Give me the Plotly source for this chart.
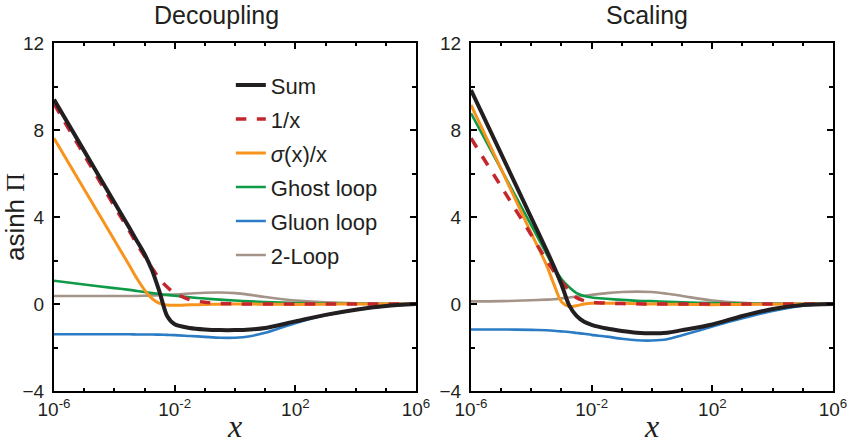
import plotly.graph_objects as go
from plotly.subplots import make_subplots

# ── Data ───────────────────────────────────────────────────────────────────────

X = [1e-6, 1e-5, 1e-4, 3.16e-4, 5.62e-4, 1e-3, 1.78e-3, 3.16e-3, 5.62e-3, 1e-2,
     3.16e-2, 0.1, 0.316, 1, 3.16, 10, 100, 1e3, 1e4, 1e5, 1e6]

# Decoupling panel
DEC_SUM   = [9.40, 7.04, 4.68, 3.50, 2.90, 2.30, 1.55, 0.55, -0.55, -0.93,
             -1.10, -1.17, -1.20, -1.20, -1.17, -1.10, -0.80, -0.50, -0.26, -0.09, 0.0]
DEC_INV   = [9.20, 6.85, 4.50, 3.35, 2.75, 2.20, 1.65, 1.15, 0.78, 0.50,
             0.20, 0.08, 0.03, 0.01, 0.0, 0.0, 0.0, 0.0, 0.0, 0.0, 0.0]
DEC_SIGMA = [7.62, 5.28, 2.94, 1.77, 1.17, 0.65, 0.25, 0.03, -0.05, -0.06,
             -0.04, -0.02, -0.01, 0.0, 0.0, -0.01, -0.02, -0.01, 0.0, 0.0, 0.0]
DEC_GHOST = [1.07, 0.90, 0.73, 0.65, 0.60, 0.55, 0.50, 0.46, 0.42, 0.38,
             0.31, 0.25, 0.20, 0.16, 0.12, 0.09, 0.04, 0.02, 0.01, 0.0, 0.0]
DEC_GLUON = [-1.39, -1.39, -1.39, -1.39, -1.40, -1.40, -1.40, -1.41, -1.42, -1.43,
             -1.47, -1.51, -1.55, -1.55, -1.48, -1.32, -0.88, -0.52, -0.27, -0.10, 0.0]
DEC_2LOOP = [0.37, 0.37, 0.37, 0.37, 0.37, 0.38, 0.39, 0.40, 0.42, 0.44,
             0.48, 0.52, 0.53, 0.50, 0.42, 0.32, 0.16, 0.08, 0.03, 0.01, 0.0]

# Scaling panel
SCA_SUM   = [9.84, 6.90, 3.96, 2.49, 1.72, 0.90, -0.05, -0.55, -0.82, -0.96,
             -1.13, -1.24, -1.32, -1.35, -1.32, -1.20, -0.94, -0.55, -0.23, -0.05, 0.0]
SCA_INV   = [7.62, 5.40, 3.17, 2.02, 1.50, 1.03, 0.64, 0.29, 0.15, 0.08,
             0.04, 0.02, 0.01, 0.0, 0.0, 0.0, 0.0, 0.0, 0.0, 0.0, 0.0]
SCA_SIGMA = [9.15, 6.20, 3.25, 1.80, 0.90, 0.10, -0.12, -0.08, 0.0, 0.04,
             0.04, 0.03, 0.01, 0.0, -0.01, -0.02, -0.03, -0.02, -0.01, 0.0, 0.0]
SCA_GHOST = [8.77, 6.19, 3.61, 2.32, 1.68, 1.15, 0.78, 0.50, 0.37, 0.30,
             0.24, 0.19, 0.15, 0.13, 0.10, 0.08, 0.04, 0.02, 0.01, 0.0, 0.0]
SCA_GLUON = [-1.17, -1.17, -1.19, -1.21, -1.23, -1.26, -1.29, -1.33, -1.37, -1.42,
             -1.50, -1.60, -1.67, -1.68, -1.62, -1.44, -1.04, -0.66, -0.32, -0.08, 0.0]
SCA_2LOOP = [0.12, 0.13, 0.17, 0.20, 0.22, 0.26, 0.30, 0.34, 0.38, 0.42,
             0.50, 0.55, 0.57, 0.55, 0.47, 0.37, 0.16, 0.06, 0.02, 0.01, 0.0]

PANEL_TITLES = ["Decoupling", "Scaling"]
NAMES = ["Sum", "1/x", "<i>σ</i>(x)/x", "Ghost loop", "Gluon loop", "2-Loop"]

X_MAJOR = [1e-6, 1e-2, 1e2, 1e6]
X_TICKTEXT = ["10<sup>-6</sup>", "10<sup>-2</sup>", "10<sup>2</sup>", "10<sup>6</sup>"]
X_MINOR = [1e-5, 1e-4, 1e-3, 1e-1, 1, 10, 1e3, 1e4, 1e5]
Y_MAJOR = [-4, 0, 4, 8, 12]
Y_MINOR = [-2, 2, 6, 10]

# ── Styles ─────────────────────────────────────────────────────────────────────

STYLES = {
    "Sum":        dict(color="#231f20", width=4.0, dash="solid"),
    "1/x":        dict(color="#c4262e", width=3.5, dash="dash"),
    "sigma":      dict(color="#f7941d", width=3.0, dash="solid"),
    "Ghost loop": dict(color="#0f9a47", width=2.6, dash="solid"),
    "Gluon loop": dict(color="#2b7cc4", width=2.6, dash="solid"),
    "2-Loop":     dict(color="#a39388", width=2.6, dash="solid"),
}
KEYS = ["Sum", "1/x", "sigma", "Ghost loop", "Gluon loop", "2-Loop"]
FONT = "Liberation Sans, Arial, sans-serif"
INK = "#231f20"

fig = make_subplots(rows=1, cols=2)

panels = [
    [DEC_SUM, DEC_INV, DEC_SIGMA, DEC_GHOST, DEC_GLUON, DEC_2LOOP],
    [SCA_SUM, SCA_INV, SCA_SIGMA, SCA_GHOST, SCA_GLUON, SCA_2LOOP],
]

for col, series in enumerate(panels, start=1):
    # draw back to front so the sum ends up on top
    for i in reversed(range(len(series))):
        st = STYLES[KEYS[i]]
        fig.add_trace(go.Scatter(
            x=X, y=series[i], mode="lines", name=NAMES[i],
            line=dict(color=st["color"], width=st["width"], dash=st["dash"],
                      shape="spline", smoothing=0.8),
            showlegend=(col == 1), legendrank=i + 1, legendgroup=KEYS[i],
        ), row=1, col=col)

axis_common = dict(showline=True, linecolor="black", linewidth=2, mirror="ticks",
                   ticks="inside", tickwidth=1.5, tickcolor="black",
                   showgrid=False, zeroline=False,
                   tickfont=dict(family=FONT, size=19, color=INK))

for col in (1, 2):
    fig.update_xaxes(type="log", range=[-6, 6], tickmode="array",
                     tickvals=X_MAJOR, ticktext=X_TICKTEXT, ticklen=6,
                     minor=dict(tickmode="array", tickvals=X_MINOR, ticks="inside",
                                ticklen=3, tickwidth=1.5, tickcolor="black", showgrid=False),
                     title=dict(text="<i>x</i>", font=dict(family="Liberation Serif, serif",
                                                          size=32, color=INK), standoff=2),
                     **axis_common, row=1, col=col)
    fig.update_yaxes(range=[-4, 12], tickmode="array", tickvals=Y_MAJOR, ticklen=6,
                     minor=dict(tickmode="array", tickvals=Y_MINOR, ticks="inside",
                                ticklen=4, tickwidth=1.5, tickcolor="black", showgrid=False),
                     ticklabelstandoff=4, **axis_common, row=1, col=col)

fig.update_yaxes(title=dict(text="asinh <span style='font-family:Liberation Serif'>Π</span>",
                            font=dict(family=FONT, size=26, color=INK), standoff=12),
                 row=1, col=1)

fig.update_layout(
    width=848, height=444, template="none",
    paper_bgcolor="white", plot_bgcolor="white",
    margin=dict(l=54, r=15, t=43, b=53),
    xaxis=dict(domain=[0.0, 0.4647]),
    xaxis2=dict(domain=[0.5353, 1.0]),
    yaxis=dict(domain=[0.0, 1.0]),
    yaxis2=dict(domain=[0.0, 1.0]),
    legend=dict(x=0.227, y=0.939, xanchor="left", yanchor="top",
                bgcolor="rgba(0,0,0,0)", borderwidth=0,
                font=dict(family=FONT, size=22, color=INK),
                tracegroupgap=2.4),
    showlegend=True,
)

title_x = [0.208, 0.761]
for tx, txt in zip(title_x, PANEL_TITLES):
    fig.add_annotation(text=txt, x=tx, y=1.1236, xref="paper", yref="paper",
                       showarrow=False, xanchor="center", yanchor="top", borderpad=0,
                       font=dict(family=FONT, size=25, color=INK))

# drop the browser's default 8px body margin so the figure sits at the window corner
fig.write_html("out.html", config={"displayModeBar": False},
               post_script="document.body.style.margin='0';")
